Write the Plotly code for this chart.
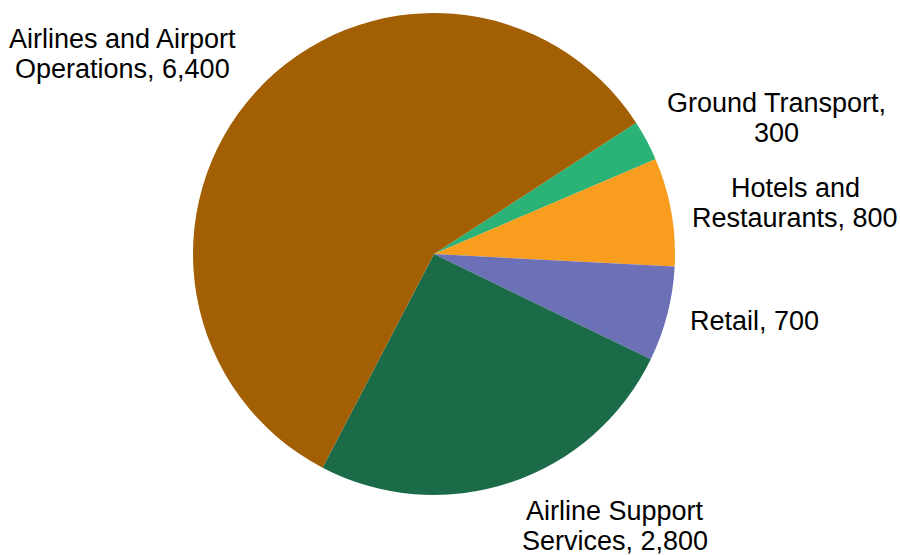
import plotly.graph_objects as go

# Data (clockwise order starting from upper-right)
categories = ["Ground Transport", "Hotels and Restaurants", "Retail",
              "Airline Support Services", "Airlines and Airport Operations"]
values = [300, 800, 700, 2800, 6400]
colors = ["#2BB276", "#F99D1F", "#6B70B7", "#1B6B49", "#A35F03"]
# label lines (text built from category and value)
label_lines = [
    ["Ground Transport,", "{v}"],
    ["Hotels and", "Restaurants, {v}"],
    ["Retail, {v}"],
    ["Airline Support", "Services, {v}"],
    ["Airlines and Airport", "Operations, {v}"],
]
# label anchor positions in pixels (center x, first-line center y)
label_pos = [(776, 103), (795, 188), (754, 321), (615, 511), (123, 39)]

W, H = 900, 555
LINE = 30
FONT = dict(family="Liberation Sans, Arial, sans-serif", size=27, color="#000000")

fig = go.Figure(go.Pie(
    labels=categories, values=values, sort=False, direction="clockwise",
    rotation=57, marker=dict(colors=colors, line=dict(width=0)),
    textinfo="none", showlegend=False,
    domain=dict(x=[193 / W, 675 / W], y=[1 - 495 / H, 1 - 13 / H]),
))

annotations = []
for lines, v, (px, py) in zip(label_lines, values, label_pos):
    for i, ln in enumerate(lines):
        annotations.append(dict(
            text=ln.format(v=f"{v:,}"), x=px / W, y=1 - (py + i * LINE) / H,
            xref="paper", yref="paper", xanchor="center", yanchor="middle",
            showarrow=False, font=FONT,
        ))

fig.update_layout(
    width=W, height=H, margin=dict(l=0, r=0, t=0, b=0),
    paper_bgcolor="white", plot_bgcolor="white",
    annotations=annotations,
)
fig.write_html("out.html", config={"displayModeBar": False},
               post_script="document.body.style.margin='0';")
